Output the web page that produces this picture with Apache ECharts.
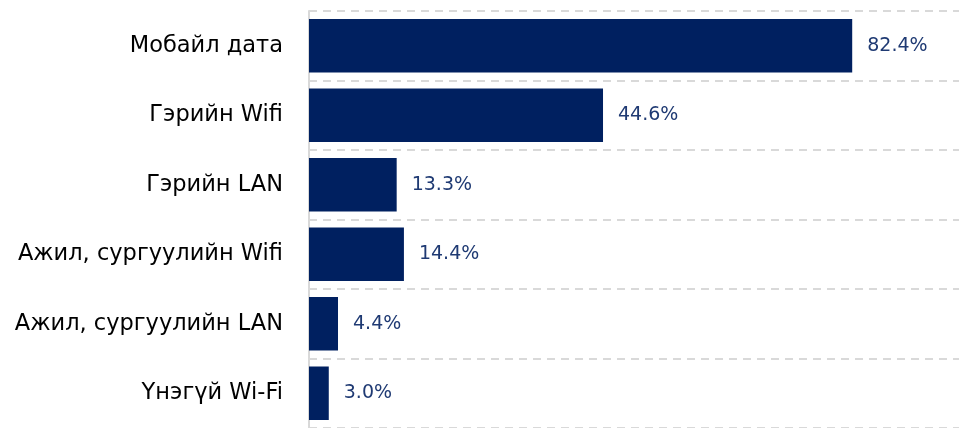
<!DOCTYPE html>
<html><head><meta charset="utf-8">
<script src="https://cdn.jsdelivr.net/npm/echarts@6/dist/echarts.min.js"></script>
<style>html,body{margin:0;padding:0;background:#fff}#c{width:960px;height:428px}</style>
</head><body><div id="c"></div>
<script>
const categories = ['Мобайл дата','Гэрийн Wifi','Гэрийн LAN','Ажил, сургуулийн Wifi','Ажил, сургуулийн LAN','Үнэгүй Wi-Fi'];
const values = [82.4, 44.6, 13.3, 14.4, 4.4, 3.0];
const chart = echarts.init(document.getElementById('c'));
chart.setOption({
  animation:false,
  grid:{left:309,right:1,top:11,height:421,containLabel:false},
  xAxis:{type:'value',min:0,max:98.6,show:false},
  yAxis:{type:'category',data:categories,inverse:true,
    axisLine:{show:true,lineStyle:{color:'#d9d9d9',width:2}},
    axisTick:{show:false},
    axisLabel:{color:'#000',fontSize:22.5,fontFamily:'DejaVu Sans',margin:26},
    splitLine:{show:true,lineStyle:{color:'#d9d9d9',type:[8,6],width:2}}},
  series:[{type:'bar',data:values,barCategoryGap:'23%',
    itemStyle:{color:'#002060'},
    label:{show:true,position:'right',distance:15,color:'#1f3a73',fontSize:19,fontFamily:'DejaVu Sans',
      formatter:p=>p.value.toFixed(1)+'%'}}]
});
</script></body></html>
